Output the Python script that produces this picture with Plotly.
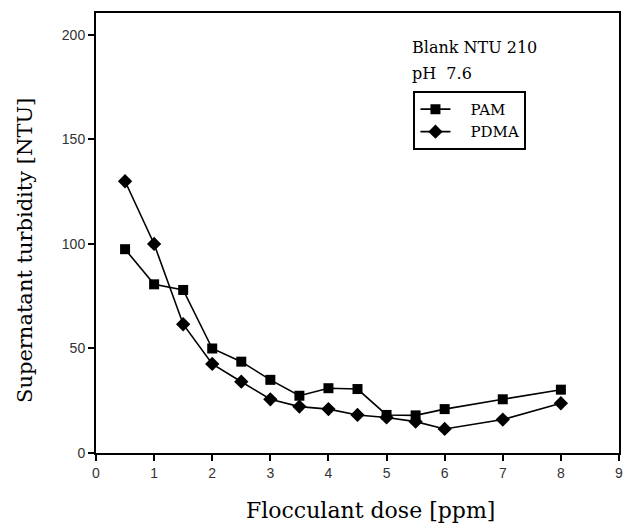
import plotly.graph_objects as go

# Flocculant dose (ppm) and supernatant turbidity (NTU) for each polymer
dose = [0.5, 1, 1.5, 2, 2.5, 3, 3.5, 4, 4.5, 5, 5.5, 6, 7, 8]
pam = [97.5, 80.7, 78, 50, 43.7, 35, 27.4, 31, 30.6, 18.2, 18, 21, 25.7, 30.3]
pdma = [130, 100, 61.6, 42.6, 34.1, 25.7, 22.2, 21, 18.2, 17, 15, 11.5, 16, 23.8]

x_ticks = [0, 1, 2, 3, 4, 5, 6, 7, 8, 9]
y_ticks = [0, 50, 100, 150, 200]

serif = "DejaVu Serif, serif"
sans = "Liberation Sans, Arial, sans-serif"

fig = go.Figure()
fig.add_trace(go.Scatter(
    x=dose, y=pam, name="\u2002\u2002PAM", mode="lines+markers",
    line=dict(color="black", width=1.6),
    marker=dict(symbol="square", size=10, color="black"),
))
fig.add_trace(go.Scatter(
    x=dose, y=pdma, name="\u2002\u2002PDMA", mode="lines+markers",
    line=dict(color="black", width=1.6),
    marker=dict(symbol="diamond", size=11, color="black"),
))

axis_common = dict(
    showline=True, linecolor="black", linewidth=2, mirror=True,
    ticks="outside", ticklen=6, tickwidth=1.5, tickcolor="black",
    showgrid=False, zeroline=False,
    tickfont=dict(family=sans, size=14, color="#333"),
)

fig.update_layout(
    width=628, height=524,
    margin=dict(l=96, r=5, t=13, b=71),
    paper_bgcolor="white", plot_bgcolor="white",
    xaxis=dict(range=[0, 9], tickvals=x_ticks, **axis_common),
    yaxis=dict(range=[0, 210.5], tickvals=y_ticks, **axis_common),
    legend=dict(x=0.607, y=0.823, xanchor="left", yanchor="top",
                bordercolor="black", borderwidth=2, bgcolor="white",
                font=dict(family=serif, size=15, color="black"),
                tracegroupgap=0),
    showlegend=True,
)

# Axis titles
fig.add_annotation(
    x=0.525, y=-0.13, xref="paper", yref="paper", xanchor="center", yanchor="middle",
    showarrow=False, text="Flocculant dose [ppm]",
    font=dict(family=serif, size=22, color="black"),
)
fig.add_annotation(
    x=-0.137, y=0.46, xref="paper", yref="paper", xanchor="center", yanchor="middle",
    showarrow=False, text="Supernatant turbidity [NTU]", textangle=-90,
    font=dict(family=serif, size=21, color="black"),
)

# Condition labels above the legend box
fig.add_annotation(
    x=0.5996, y=0.9205, xref="paper", yref="paper", xanchor="left", yanchor="middle",
    showarrow=False, text="Blank NTU 210",
    font=dict(family=serif, size=16, color="black"),
)
fig.add_annotation(
    x=0.5996, y=0.8636, xref="paper", yref="paper", xanchor="left", yanchor="middle",
    showarrow=False, text="pH  7.6",
    font=dict(family=serif, size=16, color="black"),
)

fig.write_html("out.html")
